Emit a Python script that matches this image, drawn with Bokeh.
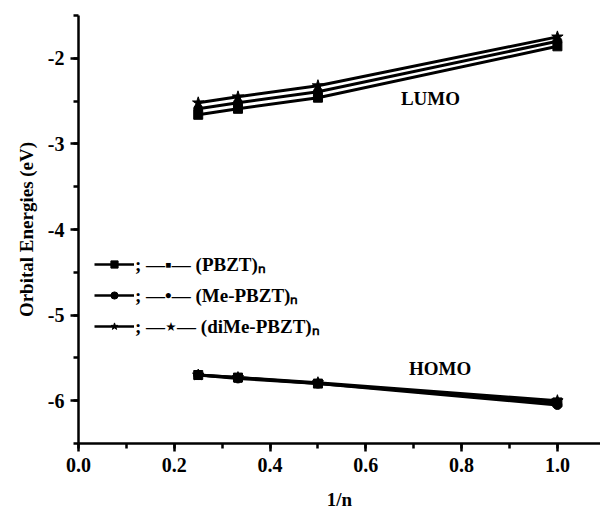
from bokeh.plotting import figure
from bokeh.models import (SingleIntervalTicker, Label, Legend, LegendItem, Range1d,
                          PrintfTickFormatter)
from bokeh.embed import file_html
from bokeh.resources import INLINE

# data
inv_n = [0.25, 0.333, 0.5, 1.0]
lumo_pbzt = [-2.66, -2.59, -2.46, -1.86]
lumo_me = [-2.59, -2.52, -2.39, -1.80]
lumo_dime = [-2.52, -2.45, -2.32, -1.75]
homo_pbzt = [-5.70, -5.73, -5.80, -6.02]
homo_me = [-5.70, -5.74, -5.80, -6.05]
homo_dime = [-5.70, -5.73, -5.79, -6.00]
series_names = ["(PBZT)ₙ", "(Me-PBZT)ₙ", "(diMe-PBZT)ₙ"]
markers = ["square", "circle", "star"]
marker_chars = ["▪", "•", "⋆"]

FONT = "Liberation Serif"
NAN = float("nan")

p = figure(width=600, height=513, output_backend="svg", toolbar_location=None,
           x_range=Range1d(0, 1.09), y_range=Range1d(-6.5, -1.5),
           min_border_left=78, min_border_right=0, min_border_top=15, min_border_bottom=70)
p.outline_line_color = None
p.xgrid.visible = False
p.ygrid.visible = False

lumos = [lumo_pbzt, lumo_me, lumo_dime]
homos = [homo_pbzt, homo_me, homo_dime]
items = []
for name, mk, ch, lu, ho in zip(series_names, markers, marker_chars, lumos, homos):
    sz = 12 if mk == "star" else 9
    p.line(inv_n, lu, line_color="black", line_width=3)
    p.scatter(inv_n, lu, marker=mk, size=sz, fill_color="black", line_color="black")
    p.line(inv_n, ho, line_color="black", line_width=3)
    p.scatter(inv_n, ho, marker=mk, size=sz, fill_color="black", line_color="black")
    # legend-only renderers (no visible data) so the key markers are drawn small
    lg_line = p.line([NAN], [NAN], line_color="black", line_width=2.5)
    lg_mark = p.scatter([NAN], [NAN], marker=mk, size=8 if mk == "star" else 6,
                        fill_color="black", line_color="black")
    items.append(LegendItem(label="; \u2014" + ch + "\u2014 " + name,
                            renderers=[lg_line, lg_mark]))

legend = Legend(items=items, location=(16, 104), background_fill_alpha=0,
                border_line_alpha=0, label_text_font=FONT, label_text_font_style="bold",
                label_text_font_size="19px", label_text_color="black",
                glyph_width=40, glyph_height=18,
                label_height=18, spacing=5, padding=0, margin=0, label_standoff=1)
p.add_layout(legend, "center")

for ax in (p.xaxis[0], p.yaxis[0]):
    ax.axis_line_width = 2.5
    ax.axis_line_color = "black"
    ax.major_tick_line_color = "black"
    ax.minor_tick_line_color = "black"
    ax.major_tick_line_width = 2.5
    ax.minor_tick_line_width = 2.5
    ax.major_tick_out = 8
    ax.major_tick_in = 0
    ax.minor_tick_out = 5
    ax.minor_tick_in = 0
    ax.major_label_text_font = FONT
    ax.major_label_text_font_style = "bold"
    ax.major_label_text_font_size = "20px"
    ax.major_label_text_color = "black"
    ax.axis_label_text_font = FONT
    ax.axis_label_text_font_style = "bold"
    ax.axis_label_text_font_size = "19px"
    ax.axis_label_text_color = "black"
    ax.major_label_standoff = 6

p.xaxis.ticker = SingleIntervalTicker(interval=0.2, num_minor_ticks=2)
p.yaxis.ticker = SingleIntervalTicker(interval=1, num_minor_ticks=2)
p.xaxis.formatter = PrintfTickFormatter(format="%.1f")
p.yaxis.formatter = PrintfTickFormatter(format="%d")
p.xaxis.axis_label = "1/n"
p.yaxis.axis_label = "Orbital Energies (eV)"
p.xaxis.axis_label_standoff = 14
p.yaxis.axis_label_standoff = 8

p.add_layout(Label(x=0.735, y=-2.47, text="LUMO", text_font=FONT, text_font_style="bold",
                   text_font_size="19px", text_align="center", text_baseline="middle",
                   text_color="black"))
p.add_layout(Label(x=0.755, y=-5.62, text="HOMO", text_font=FONT, text_font_style="bold",
                   text_font_size="19px", text_align="center", text_baseline="middle",
                   text_color="black"))

open("out.html", "w").write(file_html(p, INLINE))
